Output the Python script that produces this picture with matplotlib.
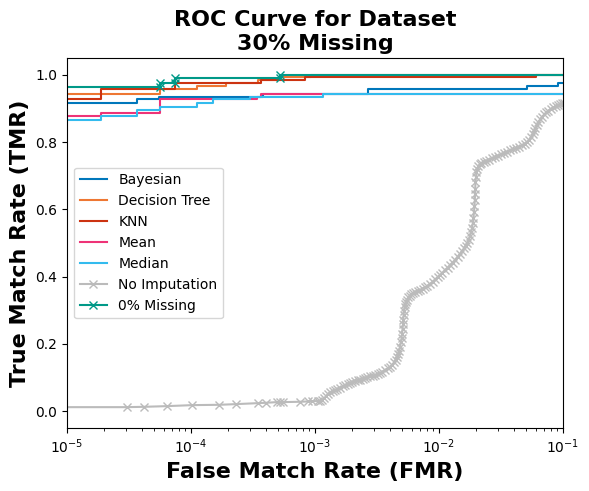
import numpy as np
import matplotlib
matplotlib.use("Agg")
import matplotlib.pyplot as plt

# step curves (corner points)
bayes_fmr = [1e-7, 3.7e-5, 3.7e-5, 5.5e-5, 5.5e-5, 3.8e-4, 3.8e-4, 2.66e-3, 2.66e-3, 0.051, 0.051, 0.091, 0.091, 1.0]
bayes_tmr = [0.917, 0.917, 0.927, 0.927, 0.934, 0.934, 0.943, 0.943, 0.957, 0.957, 0.967, 0.967, 0.975, 0.975]

tree_fmr = [1e-7, 5.6e-5, 5.6e-5, 1.11e-4, 1.11e-4, 1.9e-4, 1.9e-4, 3.5e-4, 3.5e-4, 5.2e-4, 5.2e-4, 9.2e-4, 9.2e-4, 1.0]
tree_tmr = [0.943, 0.943, 0.958, 0.958, 0.966, 0.966, 0.977, 0.977, 0.986, 0.986, 0.992, 0.992, 1.0, 1.0]

knn_fmr = [1e-7, 1.87e-5, 1.87e-5, 7.4e-5, 7.4e-5, 3.7e-4, 3.7e-4, 8.3e-4, 8.3e-4, 0.0605, 0.0605, 1.0]
knn_tmr = [0.927, 0.927, 0.957, 0.957, 0.977, 0.977, 0.986, 0.986, 0.992, 0.992, 1.0, 1.0]

mean_fmr = [1e-7, 1.87e-5, 1.87e-5, 5.6e-5, 5.6e-5, 3.4e-4, 3.4e-4, 3.7e-4, 3.7e-4, 1.0]
mean_tmr = [0.878, 0.878, 0.887, 0.887, 0.927, 0.927, 0.935, 0.935, 0.943, 0.943]

median_fmr = [1e-7, 1.87e-5, 1.87e-5, 3.7e-5, 3.7e-5, 5.6e-5, 5.6e-5, 1.11e-4, 1.11e-4, 1.5e-4, 1.5e-4,
              2.99e-4, 2.99e-4, 1.15e-3, 1.15e-3, 1.0]
median_tmr = [0.866, 0.866, 0.878, 0.878, 0.896, 0.896, 0.905, 0.905, 0.917, 0.917, 0.927, 0.927,
              0.934, 0.934, 0.943, 0.943]

full_fmr = [1e-7, 5.6e-5, 5.6e-5, 7.4e-5, 7.4e-5, 5.2e-4, 5.2e-4, 1.0]
full_tmr = [0.964, 0.964, 0.975, 0.975, 0.990, 0.990, 1.0, 1.0]

# no imputation curve, FMR given as log10 values
noimp_log_fmr = [
    -7.0, -4.519, -4.379, -4.196, -3.990, -3.772, -3.637, -3.457, -3.395, -3.306, -3.282, -3.258,
    -3.121, -3.056, -3.024,
    -2.976, -2.960, -2.944, -2.927, -2.911, -2.895, -2.879, -2.859, -2.839, -2.819, -2.798, -2.778,
    -2.758, -2.738, -2.718, -2.698, -2.677, -2.657, -2.637, -2.617, -2.597, -2.577, -2.556, -2.536,
    -2.516, -2.496, -2.476, -2.456, -2.435, -2.415, -2.395, -2.379, -2.363, -2.351, -2.339, -2.331,
    -2.323, -2.315, -2.306, -2.302, -2.298, -2.294, -2.290, -2.288, -2.286, -2.282, -2.278, -2.273,
    -2.266, -2.258, -2.250, -2.238, -2.226, -2.210, -2.194, -2.173, -2.153, -2.133, -2.113, -2.093,
    -2.073, -2.052, -2.032, -2.012, -1.992, -1.972, -1.952, -1.931, -1.911, -1.891, -1.871, -1.851,
    -1.831, -1.815, -1.798, -1.786, -1.774, -1.762, -1.750, -1.742, -1.734, -1.727, -1.722, -1.718,
    -1.714, -1.711, -1.710, -1.708, -1.706, -1.702, -1.698, -1.692, -1.685, -1.673, -1.661, -1.641,
    -1.621, -1.597, -1.573, -1.548, -1.524, -1.500, -1.476, -1.452, -1.427, -1.403, -1.379, -1.355,
    -1.331, -1.310, -1.290, -1.274, -1.258, -1.246, -1.234, -1.222, -1.210, -1.198, -1.185, -1.169,
    -1.153, -1.137, -1.121, -1.101, -1.081, -1.060, -1.040, -1.024, -1.008, -0.992, -0.7, 0.0]
noimp_tmr = [
    0.012, 0.012, 0.013, 0.015, 0.018, 0.019, 0.021, 0.024, 0.025, 0.027, 0.027, 0.027,
    0.028, 0.029, 0.030,
    0.030, 0.031, 0.033, 0.038, 0.045, 0.052, 0.057, 0.060, 0.062, 0.065, 0.069, 0.074,
    0.078, 0.081, 0.085, 0.088, 0.090, 0.092, 0.094, 0.097, 0.100, 0.102, 0.104, 0.106,
    0.108, 0.110, 0.113, 0.117, 0.122, 0.127, 0.132, 0.138, 0.145, 0.152, 0.160, 0.170,
    0.180, 0.192, 0.205, 0.218, 0.230, 0.245, 0.260, 0.272, 0.285, 0.298, 0.310, 0.318,
    0.325, 0.332, 0.338, 0.343, 0.348, 0.352, 0.355, 0.357, 0.360, 0.364, 0.368, 0.373,
    0.378, 0.385, 0.392, 0.398, 0.405, 0.412, 0.420, 0.427, 0.435, 0.442, 0.450, 0.459,
    0.468, 0.476, 0.485, 0.492, 0.500, 0.510, 0.520, 0.532, 0.545, 0.560, 0.575, 0.592,
    0.610, 0.628, 0.645, 0.662, 0.680, 0.695, 0.710, 0.720, 0.728, 0.734, 0.738, 0.742,
    0.745, 0.748, 0.752, 0.756, 0.760, 0.764, 0.768, 0.771, 0.775, 0.778, 0.782, 0.786,
    0.790, 0.795, 0.800, 0.807, 0.815, 0.823, 0.832, 0.841, 0.850, 0.859, 0.868, 0.875,
    0.882, 0.888, 0.893, 0.898, 0.903, 0.907, 0.910, 0.913, 0.915, 0.917, 0.96, 1.0]

noimp_fmr = 10 ** np.array(noimp_log_fmr)

fig = plt.figure(figsize=(5.89, 4.91), dpi=100)
ax = fig.add_axes([0.1138, 0.1283, 0.8421, 0.7536])

ax.plot(bayes_fmr, bayes_tmr, color="#0077BB", label="Bayesian")
ax.plot(tree_fmr, tree_tmr, color="#EE7733", label="Decision Tree")
ax.plot(knn_fmr, knn_tmr, color="#CC3311", label="KNN")
ax.plot(mean_fmr, mean_tmr, color="#EE3377", label="Mean")
ax.plot(median_fmr, median_tmr, color="#33BBEE", label="Median")
ax.plot(noimp_fmr, noimp_tmr, color="#BBBBBB", marker="x", label="No Imputation")
ax.plot(full_fmr, full_tmr, color="#009988", marker="x", label="0% Missing")

ax.set_xscale("log")
ax.set_xlim(1e-5, 1e-1)
ax.set_ylim(-0.05, 1.05)
ax.set_xlabel("False Match Rate (FMR)", fontsize=16, fontweight="bold")
ax.set_ylabel("True Match Rate (TMR)", fontsize=16, fontweight="bold")
ax.set_title("ROC Curve for Dataset\n30% Missing", fontsize=16, fontweight="bold")
ax.legend(loc="center left")

fig.savefig("out.png")
